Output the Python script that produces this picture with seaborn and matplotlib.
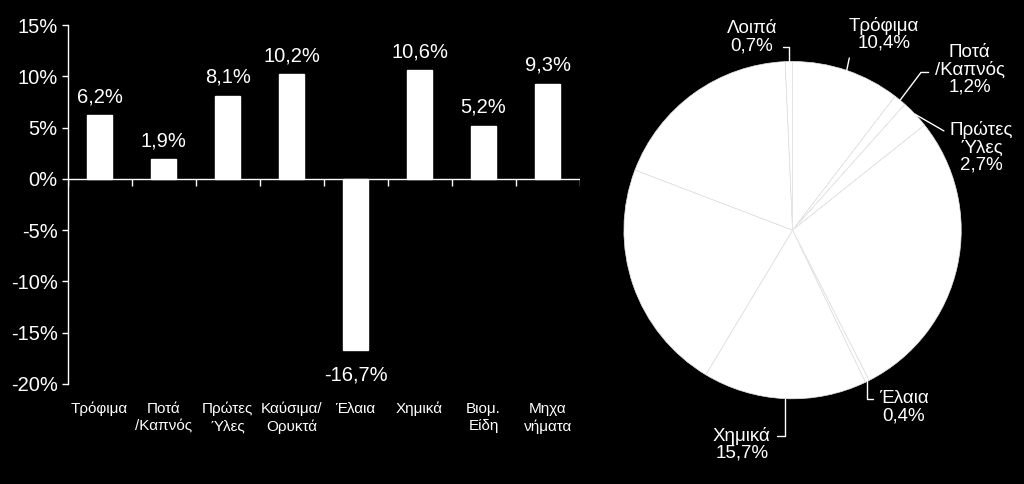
import numpy as np
import matplotlib
matplotlib.use("Agg")
import matplotlib.pyplot as plt
import seaborn as sns
from matplotlib.ticker import FuncFormatter

# bar chart data (annual change, %)
bar_labels = ["Τρόφιμα", "Ποτά\n/Καπνός", "Πρώτες\nΎλες", "Καύσιμα/\nΟρυκτά",
              "Έλαια", "Χημικά", "Βιομ.\nΕίδη", "Μηχα\nνήματα"]
bar_values = [6.2, 1.9, 8.1, 10.2, -16.7, 10.6, 5.2, 9.3]

# pie chart data (share, %) - clockwise from 12 o'clock
pie_names = ["Τρόφιμα", "Ποτά\n/Καπνός", "Πρώτες\nΎλες", "Καύσιμα/Ορυκτά",
             "Έλαια", "Χημικά", "Βιομ. Είδη", "Μηχανήματα", "Λοιπά"]
pie_values = [10.4, 1.2, 2.7, 28.2, 0.4, 15.7, 22.2, 18.5, 0.7]
pie_shown = [True, True, True, False, True, True, False, False, True]

# label placement: text centre (pie units), where the leader leaves the text,
# and the leader's connection style
pie_label_style = {
    "Λοιπά": ((-0.24, 1.145), (1.0, 0.2), "angle,angleA=0,angleB=90"),
    "Τρόφιμα": ((0.54, 1.16), (0.03, 0.0), "arc3"),
    "Ποτά\n/Καπνός": ((1.05, 0.95), (0.0, 0.45), "angle,angleA=0,angleB=53"),
    "Πρώτες\nΎλες": ((1.12, 0.49), (0.0, 0.8), "angle,angleA=0,angleB=-30"),
    "Έλαια": ((0.66, -1.05), (0.0, 0.75), "angle,angleA=0,angleB=90"),
    "Χημικά": ((-0.30, -1.27), (1.0, 0.75), "angle,angleA=0,angleB=90"),
}

sns.set_style("dark", {"axes.facecolor": "black", "figure.facecolor": "black"})
plt.rcParams["font.family"] = ["Liberation Sans", "DejaVu Sans"]

fig = plt.figure(figsize=(10.24, 4.84), dpi=100, facecolor="black")

# ---- bar chart
ax = fig.add_axes([0.066, 0.207, 0.5, 0.741])
ax.set_facecolor("black")
sns.barplot(x=list(range(len(bar_values))), y=bar_values, color="white",
            width=0.38, saturation=1, ax=ax, edgecolor="white")
ax.set_xlim(-0.5, len(bar_values) - 0.5)
ax.set_ylim(-20, 15)
ax.set_yticks(np.arange(-20, 16, 5))
ax.yaxis.set_major_formatter(FuncFormatter(lambda v, p: f"{v:.0f}%"))
ax.set_xticks(range(len(bar_labels)))
ax.set_xticklabels(bar_labels, fontsize=11, color="white", linespacing=1.3)
ax.tick_params(axis="x", length=0, pad=13)
ax.tick_params(axis="y", colors="white", labelsize=14.5, length=4, width=1,
               direction="out", left=True, pad=3)
for s in ["top", "right", "bottom"]:
    ax.spines[s].set_visible(False)
ax.spines["left"].set_color("white")
ax.spines["left"].set_linewidth(1)
ax.grid(False)
ax.set_xlabel("")
ax.set_ylabel("")

# zero line with category boundary ticks
ax.axhline(0, color="white", lw=1)
ax.vlines(np.arange(-0.5, len(bar_values)), -0.7, 0, color="white", lw=1)

fmt = [f"{v:.1f}%".replace(".", ",") for v in bar_values]
ax.bar_label(ax.containers[0], labels=[t if v >= 0 else "" for t, v in zip(fmt, bar_values)],
             padding=6.5, color="white", fontsize=14.5)
ax.bar_label(ax.containers[0], labels=[t if v < 0 else "" for t, v in zip(fmt, bar_values)],
             padding=11, color="white", fontsize=14.5)

# ---- pie chart
pax = fig.add_axes([0.606, 0.169, 0.336, 0.711])
pax.set_facecolor("black")
wedges, _ = pax.pie(pie_values, startangle=90, counterclock=False,
                    colors=["white"] * len(pie_values),
                    wedgeprops=dict(edgecolor="#e4e4e4", linewidth=0.5))
pax.set_xlim(-1.02, 1.02)
pax.set_ylim(-1.02, 1.02)
pax.set_aspect("equal")

for w, name, val, show in zip(wedges, pie_names, pie_values, pie_shown):
    if not show:
        continue
    ang = np.deg2rad((w.theta1 + w.theta2) / 2)
    xy = (np.cos(ang), np.sin(ang))
    (tx, ty), rel, conn = pie_label_style[name]
    txt = f"{name}\n{val:.1f}%".replace(".", ",")
    pax.annotate(txt, xy=xy, xytext=(tx, ty), ha="center", va="center",
                 color="white", fontsize=13.5, linespacing=1.0,
                 annotation_clip=False,
                 arrowprops=dict(arrowstyle="-", color="white", lw=1,
                                 shrinkA=2, shrinkB=0, relpos=rel,
                                 connectionstyle=conn))

fig.savefig("out.png", dpi=100, facecolor="black")
